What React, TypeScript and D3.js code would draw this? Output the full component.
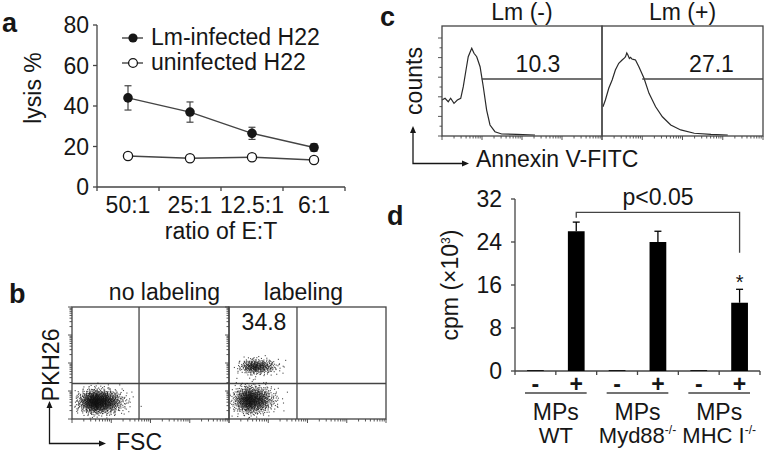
import React from "react";
import * as d3 from "d3";

// ---------- Panel a data ----------
const ratioLabels = ["50:1", "25:1", "12.5:1", "6:1"];
const infectedMean = [44, 37, 26.5, 19.5];
const infectedErr = [6, 5, 3, 1.8];
const uninfectedMean = [15.3, 14.2, 14.7, 13.3];
const uninfectedErr = [1.2, 1.5, 1.2, 1.5];
const lysisTicks = [0, 20, 40, 60, 80];
const legendLabels = ["Lm-infected H22", "uninfected H22"];

// ---------- Panel c data (histograms, x 0-1000 log channel, y 0-100 % of max) ----------
const histTitles = ["Lm (-)", "Lm (+)"];
const histPercent = ["10.3", "27.1"];
const histLmNeg: [number, number][] = [
  [0, 32.7], [19, 34.3], [39, 31.2], [54, 34.3], [75, 29.7], [96, 32.7], [117, 34.3],
  [133, 44.8], [150, 60], [164, 72.1], [178, 77], [186, 79.7], [193, 77.5], [200, 75.2],
  [217, 72.1], [238, 63], [258, 44.8], [279, 23.6], [300, 10], [331, 3.9], [373, 1.8],
  [467, 1.5], [581, 0.9],
];
const histLmPos: [number, number][] = [
  [6, 26.6], [21, 32.7], [42, 43.4], [63, 50.9], [83, 60], [104, 66.1], [125, 69.1],
  [140, 71], [146, 72.1], [154, 75.5], [161, 73.6], [170, 70.5], [177, 71.5], [186, 70],
  [194, 69.7], [208, 69.1], [229, 63], [261, 52.5], [292, 38.8], [333, 26.6], [375, 17.5],
  [427, 10], [489, 5.5], [573, 2.5], [677, 1.5], [781, 0.9],
];
const histGateStart = [248, 250];
const histGateLevel = 51.8;

// ---------- Panel b data (dot plot clusters, axes 0-1000) ----------
const dotTitles = ["no labeling", "labeling"];
const quadX = [427, 433];
const quadY = 317;
// cluster: panel, centerX, centerY, sdX, sdY, count
const clusterPanel = [0, 1, 1];
const clusterCX = [168, 176, 145];
const clusterCY = [154, 467, 170];
const clusterSX = [60, 52, 55];
const clusterSY = [52, 34, 60];
const clusterN = [1400, 420, 1100];
const labelingPercent = "34.8";

// ---------- Panel d data ----------
const barKeys = ["WT-", "WT+", "Myd-", "Myd+", "MHC-", "MHC+"];
const barSigns = ["-", "+", "-", "+", "-", "+"];
const cpmMean = [0.15, 26, 0.15, 24, 0.15, 12.7];
const cpmErr = [0, 1.7, 0, 2, 0, 2.5];
const cpmTicks = [0, 8, 16, 24, 32];
const groupTop = ["MPs", "MPs", "MPs"];
const groupBottom = ["WT", "Myd88", "MHC I"];
const groupSup = ["", "-/-", "-/-"];

const FONT = "Liberation Sans, Arial, Helvetica, sans-serif";
const INK = "#161616";
const LINE = "#444";

function halton(i: number, b: number) {
  let f = 1, r = 0;
  while (i > 0) {
    f = f / b;
    r = r + f * (i % b);
    i = Math.floor(i / b);
  }
  return r;
}

function logTicks(len: number) {
  const out: { p: number; major: boolean }[] = [];
  for (let d = 0; d < 4; d++) {
    for (let k = 1; k <= 9; k++) {
      out.push({ p: ((d + Math.log10(k)) / 4) * len, major: k === 1 });
    }
  }
  out.push({ p: len, major: true });
  return out;
}

export default function App() {
  // ===== Panel a =====
  const xA = d3.scaleBand<string>().domain(ratioLabels).range([97, 345]);
  const yA = d3.scaleLinear().domain([0, 80]).range([187, 25]);
  const cxA = (i: number) => (xA(ratioLabels[i]) as number) + xA.bandwidth() / 2;
  const lineA = d3.line<number>().x((_, i) => cxA(i)).y((v) => yA(v));

  // ===== Panel c =====
  const cBoxes = [
    { x0: 442, x1: 602 },
    { x0: 602, x1: 763 },
  ];
  const cTop = 26, cBot = 136;
  const yC = d3.scaleLinear().domain([0, 100]).range([cBot, cTop]);
  const histData = [histLmNeg, histLmPos];

  // ===== Panel b =====
  const bBoxes = [
    { x0: 72, x1: 229 },
    { x0: 229, x1: 386 },
  ];
  const bTop = 307, bBot = 419;
  const yB = d3.scaleLinear().domain([0, 1000]).range([bBot, bTop]);

  const dots: { x: number; y: number }[] = [];
  clusterCX.forEach((cx, ci) => {
    const box = bBoxes[clusterPanel[ci]];
    const xB = d3.scaleLinear().domain([0, 1000]).range([box.x0, box.x1]);
    for (let i = 1; i <= clusterN[ci]; i++) {
      const u1 = Math.max(1e-4, halton(i + ci * 977, 2));
      const u2 = halton(i + ci * 977, 3);
      const r = Math.sqrt(-2 * Math.log(u1));
      let gx = r * Math.cos(2 * Math.PI * u2);
      const gy = r * Math.sin(2 * Math.PI * u2);
      if (gx > 0) gx *= 1.25;
      const vx = cx + gx * clusterSX[ci];
      const vy = clusterCY[ci] + gy * clusterSY[ci];
      if (vx < 5 || vx > 995 || vy < 5 || vy > 995) continue;
      dots.push({ x: xB(vx), y: yB(vy) });
    }
  });

  // ===== Panel d =====
  const xD = d3.scaleBand<string>().domain(barKeys).range([515, 760]);
  const yD = d3.scaleLinear().domain([0, 32]).range([371, 199]);
  const bw = xD.bandwidth();
  const barW = bw * 0.41;
  const cxD = (k: string) => (xD(k) as number) + bw / 2;

  const fs = 23;

  return (
    <svg
      width={769}
      height={455}
      style={{ position: "absolute", left: 0, top: 0, background: "#fff" }}
      fontFamily={FONT}
    >
      <rect width={769} height={455} fill="#fff" />

      {/* ================= Panel a ================= */}
      <text x={2} y={32} fontSize={27} fontWeight="bold" fill={INK}>a</text>
      <line x1={97} x2={97} y1={yA(80)} y2={yA(0)} stroke={LINE} strokeWidth={1.3} />
      <line x1={97} x2={345} y1={yA(0)} y2={yA(0)} stroke={LINE} strokeWidth={1.3} />
      {lysisTicks.map((t) => (
        <g key={t}>
          <line x1={93} x2={97} y1={yA(t)} y2={yA(t)} stroke={LINE} strokeWidth={1.3} />
          <text x={89} y={yA(t)} dy="0.36em" textAnchor="end" fontSize={fs} fill={INK}>{t}</text>
        </g>
      ))}
      {[0, 1, 2, 3, 4].map((i) => {
        const x = i < 4 ? (xA(ratioLabels[i]) as number) : 345;
        return <line key={i} x1={x} x2={x} y1={yA(0)} y2={yA(0) + 4} stroke={LINE} strokeWidth={1.3} />;
      })}
      {ratioLabels.map((l, i) => (
        <text key={l} x={cxA(i)} y={213} textAnchor="middle" fontSize={fs} fill={INK}>{l}</text>
      ))}
      <text x={221} y={239} textAnchor="middle" fontSize={fs} fill={INK}>ratio of E:T</text>
      <text transform={`translate(41,${yA(40) - 18}) rotate(-90)`} textAnchor="middle" fontSize={fs} fill={INK}>lysis %</text>

      <path d={lineA(uninfectedMean) || ""} fill="none" stroke={LINE} strokeWidth={1.4} />
      <path d={lineA(infectedMean) || ""} fill="none" stroke={LINE} strokeWidth={1.4} />
      {uninfectedMean.map((v, i) => (
        <g key={"u" + i}>
          <line x1={cxA(i)} x2={cxA(i)} y1={yA(v + uninfectedErr[i])} y2={yA(v - uninfectedErr[i])} stroke={LINE} strokeWidth={1.2} />
          <circle cx={cxA(i)} cy={yA(v)} r={4.6} fill="#fff" stroke={INK} strokeWidth={1.3} />
        </g>
      ))}
      {infectedMean.map((v, i) => (
        <g key={"f" + i}>
          <line x1={cxA(i)} x2={cxA(i)} y1={yA(v + infectedErr[i])} y2={yA(v - infectedErr[i])} stroke={LINE} strokeWidth={1.2} />
          <line x1={cxA(i) - 3.5} x2={cxA(i) + 3.5} y1={yA(v + infectedErr[i])} y2={yA(v + infectedErr[i])} stroke={LINE} strokeWidth={1.2} />
          <line x1={cxA(i) - 3.5} x2={cxA(i) + 3.5} y1={yA(v - infectedErr[i])} y2={yA(v - infectedErr[i])} stroke={LINE} strokeWidth={1.2} />
          <circle cx={cxA(i)} cy={yA(v)} r={4.8} fill={INK} />
        </g>
      ))}
      {/* legend */}
      {legendLabels.map((l, i) => {
        const y = 38 + i * 25;
        return (
          <g key={l}>
            <line x1={122} x2={143} y1={y} y2={y} stroke={LINE} strokeWidth={1.4} />
            {i === 0 ? (
              <circle cx={133} cy={y} r={4.6} fill={INK} />
            ) : (
              <circle cx={133} cy={y} r={4.4} fill="#fff" stroke={INK} strokeWidth={1.3} />
            )}
            <text x={151} y={y + 7} fontSize={fs} fill={INK}>{l}</text>
          </g>
        );
      })}

      {/* ================= Panel c ================= */}
      <text x={380} y={26} fontSize={27} fontWeight="bold" fill={INK}>c</text>
      {cBoxes.map((b, pi) => {
        const xC = d3.scaleLinear().domain([0, 1000]).range([b.x0, b.x1]);
        const ln = d3.line<[number, number]>().x((d) => xC(d[0])).y((d) => yC(d[1]));
        const lt = logTicks(b.x1 - b.x0);
        return (
          <g key={pi}>
            <text x={(b.x0 + b.x1) / 2} y={20} textAnchor="middle" fontSize={fs} fill={INK}>{histTitles[pi]}</text>
            {lt.map((t, j) => (
              <line key={j} x1={b.x0 + t.p} x2={b.x0 + t.p} y1={cBot} y2={cBot + (t.major ? 4 : 2.5)} stroke={LINE} strokeWidth={0.9} />
            ))}
            {pi === 0 &&
              d3.range(0, 11).map((j) => (
                <line key={"l" + j} x1={b.x0 - (j % 2 === 0 ? 4 : 2.5)} x2={b.x0} y1={cBot - j * 9.8} y2={cBot - j * 9.8} stroke={LINE} strokeWidth={0.9} />
              ))}
            <path d={ln(histData[pi]) || ""} fill="none" stroke="#2a2a2a" strokeWidth={1.2} />
            <line x1={xC(histGateStart[pi])} x2={b.x1} y1={yC(histGateLevel)} y2={yC(histGateLevel)} stroke={LINE} strokeWidth={1.3} />
            <text x={xC(pi === 0 ? 600 : 680)} y={72} textAnchor="middle" fontSize={fs} fill={INK}>{histPercent[pi]}</text>
            <rect x={b.x0} y={cTop} width={b.x1 - b.x0} height={cBot - cTop} fill="none" stroke={LINE} strokeWidth={1.3} />
          </g>
        );
      })}
      <text transform={`translate(422,${(cTop + cBot) / 2}) rotate(-90)`} textAnchor="middle" fontSize={fs} fill={INK}>counts</text>
      <path d="M413,128 L413,163.5 L466,163.5" fill="none" stroke={INK} strokeWidth={1.3} />
      <path d="M413,126 L410,133 L416,133 Z" fill={INK} />
      <path d="M469,163.5 L462,160.5 L462,166.5 Z" fill={INK} />
      <text x={476} y={167} fontSize={fs} fill={INK}>Annexin V-FITC</text>

      {/* ================= Panel b ================= */}
      <text x={9} y={303} fontSize={27} fontWeight="bold" fill={INK}>b</text>
      {bBoxes.map((b, pi) => {
        const xB = d3.scaleLinear().domain([0, 1000]).range([b.x0, b.x1]);
        const lt = logTicks(b.x1 - b.x0);
        const ltY = logTicks(bBot - bTop);
        return (
          <g key={pi}>
            <text x={(b.x0 + b.x1) / 2 + (pi === 0 ? 14 : -4)} y={300} textAnchor="middle" fontSize={fs} fill={INK}>{dotTitles[pi]}</text>
            {lt.map((t, j) => (
              <line key={j} x1={b.x0 + t.p} x2={b.x0 + t.p} y1={bBot} y2={bBot + (t.major ? 4 : 2.5)} stroke={LINE} strokeWidth={0.9} />
            ))}
            {ltY.map((t, j) => (
              <line key={"y" + j} x1={b.x0 - (t.major ? 4 : 2.5)} x2={b.x0} y1={bBot - t.p} y2={bBot - t.p} stroke={LINE} strokeWidth={0.9} />
            ))}
            <line x1={xB(quadX[pi])} x2={xB(quadX[pi])} y1={bTop} y2={bBot} stroke={LINE} strokeWidth={1.3} />
            <line x1={b.x0} x2={b.x1} y1={yB(quadY)} y2={yB(quadY)} stroke={LINE} strokeWidth={1.3} />
          </g>
        );
      })}
      <g>
        {dots.map((d, i) => (
          <rect key={i} x={d.x - 0.55} y={d.y - 0.55} width={1.1} height={1.1} fill="#111" opacity={0.75} />
        ))}
      </g>
      {bBoxes.map((b, pi) => (
        <rect key={"bx" + pi} x={b.x0} y={bTop} width={b.x1 - b.x0} height={bBot - bTop} fill="none" stroke={LINE} strokeWidth={1.3} />
      ))}
      <text x={264} y={330} textAnchor="middle" fontSize={fs} fill={INK}>{labelingPercent}</text>
      <text transform={`translate(59,${(bTop + bBot) / 2 + 2}) rotate(-90)`} textAnchor="middle" fontSize={fs} fill={INK}>PKH26</text>
      <path d="M49.5,404 L49.5,443.5 L103,443.5" fill="none" stroke={INK} strokeWidth={1.3} />
      <path d="M49.5,401 L46.5,408 L52.5,408 Z" fill={INK} />
      <path d="M106,443.5 L99,440.5 L99,446.5 Z" fill={INK} />
      <text x={116} y={450} fontSize={fs} fill={INK}>FSC</text>

      {/* ================= Panel d ================= */}
      <text x={387} y={225} fontSize={27} fontWeight="bold" fill={INK}>d</text>
      <line x1={515} x2={515} y1={yD(32)} y2={yD(0)} stroke={LINE} strokeWidth={1.3} />
      <line x1={515} x2={760} y1={yD(0)} y2={yD(0)} stroke={LINE} strokeWidth={1.3} />
      {cpmTicks.map((t) => (
        <g key={t}>
          <line x1={511} x2={515} y1={yD(t)} y2={yD(t)} stroke={LINE} strokeWidth={1.3} />
          <text x={502} y={yD(t)} dy="0.36em" textAnchor="end" fontSize={fs} fill={INK}>{t}</text>
        </g>
      ))}
      {barKeys.map((k, i) => (
        <line key={"t" + i} x1={xD(k) as number} x2={xD(k) as number} y1={yD(0)} y2={yD(0) + 4} stroke={LINE} strokeWidth={1.3} />
      ))}
      <line x1={760} x2={760} y1={yD(0)} y2={yD(0) + 4} stroke={LINE} strokeWidth={1.3} />
      {barKeys.map((k, i) => (
        <g key={k}>
          <rect x={cxD(k) - barW / 2} y={yD(cpmMean[i])} width={barW} height={yD(0) - yD(cpmMean[i])} fill="#000" />
          {cpmErr[i] > 0 && (
            <g>
              <line x1={cxD(k)} x2={cxD(k)} y1={yD(cpmMean[i])} y2={yD(cpmMean[i] + cpmErr[i])} stroke="#000" strokeWidth={1.3} />
              <line x1={cxD(k) - 3.5} x2={cxD(k) + 3.5} y1={yD(cpmMean[i] + cpmErr[i])} y2={yD(cpmMean[i] + cpmErr[i])} stroke="#000" strokeWidth={1.3} />
            </g>
          )}
          <text x={cxD(k)} y={392} textAnchor="middle" fontSize={fs} fontWeight="bold" fill={INK}>{barSigns[i]}</text>
        </g>
      ))}
      {groupBottom.map((g, gi) => {
        const k0 = barKeys[gi * 2], k1 = barKeys[gi * 2 + 1];
        const x0 = xD(k0) as number;
        const x1 = (xD(k1) as number) + bw;
        const cx = (x0 + x1) / 2;
        return (
          <g key={g}>
            <line x1={x0 + 10} x2={x1 - 10} y1={393} y2={393} stroke={LINE} strokeWidth={1.3} />
            <text x={cx} y={420} textAnchor="middle" fontSize={fs} fill={INK}>{groupTop[gi]}</text>
            <text x={cx} y={443} textAnchor="middle" fontSize={22} fill={INK}>
              {g}
              {groupSup[gi] && (
                <tspan fontSize={12} dy={-9}>{groupSup[gi]}</tspan>
              )}
            </text>
          </g>
        );
      })}
      {/* significance bracket */}
      <path
        d={`M${cxD("WT+")},${yD(28.5)} L${cxD("WT+")},${yD(29.5)} L${cxD("MHC+")},${yD(29.5)} L${cxD("MHC+")},${yD(22)}`}
        fill="none"
        stroke={LINE}
        strokeWidth={1.3}
      />
      <text x={658} y={205} textAnchor="middle" fontSize={fs} fill={INK}>p&lt;0.05</text>
      <text x={cxD("MHC+")} y={289} textAnchor="middle" fontSize={20} fill={INK}>*</text>
      <text transform={`translate(458,${yD(16)}) rotate(-90)`} textAnchor="middle" fontSize={fs} fill={INK}>
        cpm (×10<tspan fontSize={12} dy={-8}>3</tspan><tspan dy={8}>)</tspan>
      </text>
    </svg>
  );
}
